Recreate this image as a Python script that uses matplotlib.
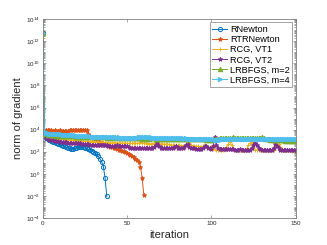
import numpy as np
import matplotlib
matplotlib.use('Agg')
import matplotlib.pyplot as plt
from matplotlib.ticker import LogLocator, NullFormatter, FixedLocator

plt.rcParams['font.family'] = ['Liberation Sans', 'DejaVu Sans']
plt.rcParams['mathtext.fontset'] = 'custom'
plt.rcParams['mathtext.rm'] = 'Liberation Sans'

# log10 of gradient norm
rnewton_log = [12.7, 3.8, 3.2, 3.12, 3.05, 2.98, 2.91, 2.85, 2.79, 2.72,
               2.66, 2.6, 2.54, 2.48, 2.42, 2.36, 2.3, 2.24, 2.25, 2.3,
               2.37, 2.42, 2.45, 2.43, 2.4, 2.35, 2.3, 2.22, 2.15, 2.08,
               2.0, 1.88, 1.75, 1.58, 1.35, 1.1, 0.65, -0.4, -2.05]

rtrnewton_log = [12.7, 3.95, 3.94, 3.93, 3.94, 3.93, 3.92, 3.93, 3.92, 3.92,
                 3.93, 3.92, 3.91, 3.92, 3.91, 3.92, 3.93, 3.94, 3.95, 3.96,
                 3.97, 3.98, 3.99, 4.0, 3.99, 3.98, 3.95, 3.6, 3.45, 3.35,
                 3.25, 3.15, 3.05, 2.95, 2.88, 2.8, 2.72, 2.65, 2.58, 2.52,
                 2.46, 2.4, 2.35, 2.3, 2.25, 2.2, 2.15, 2.1, 2.05, 1.98,
                 1.9, 1.82, 1.72, 1.62, 1.5, 1.38, 1.25, 1.1, 0.65, -0.4,
                 -1.95]

rcg_vt1_log = [12.7, 3.85, 3.35, 3.3, 3.28, 3.25, 3.22, 3.2, 3.18, 3.16,
               3.15, 3.13, 3.12, 3.1, 3.08, 3.07, 3.05, 3.05, 3.03, 3.02,
               3.0, 2.99, 2.98, 2.97, 2.96, 2.95, 2.94, 2.93, 2.92, 2.9,
               2.9, 2.89, 2.88, 2.87, 2.86, 2.85, 2.85, 2.84, 2.83, 2.83,
               2.82, 2.82, 2.81, 2.8, 2.8, 2.8, 2.79, 2.78, 2.78, 2.77,
               2.77, 2.76, 2.76, 2.75, 2.8, 2.78, 2.76, 2.75, 2.9, 2.8,
               2.77, 2.75, 2.74, 2.73, 2.72, 2.72, 2.8, 2.85, 2.78, 2.74,
               2.72, 2.7, 2.7, 2.69, 2.68, 2.66, 2.62, 2.6, 2.6, 2.58,
               2.58, 2.57, 2.56, 2.56, 2.55, 2.7, 2.9, 2.7, 2.6, 2.55,
               2.52, 2.5, 2.48, 2.47, 2.46, 2.5, 2.65, 2.55, 2.45, 2.4,
               2.3, 2.25, 2.22, 2.2, 2.2, 2.19, 2.18, 2.18, 2.2, 2.4,
               2.7, 2.9, 2.6, 2.3, 2.2, 2.18, 2.17, 2.17, 2.16, 2.16,
               2.16, 2.3, 2.6, 2.8, 2.9, 2.5, 2.2, 2.16, 2.15, 2.15,
               2.15, 2.14, 2.14, 2.14, 2.13, 2.13, 2.13, 2.2, 2.4, 2.6,
               2.7, 2.45, 2.2, 2.15, 2.13, 2.12, 2.12, 2.12, 2.11, 2.11,
               2.11]

rcg_vt2_log = [12.7, 3.85, 3.2, 3.15, 3.1, 3.06, 3.02, 3.0, 2.97, 2.95,
               2.92, 2.9, 2.88, 2.86, 2.84, 2.83, 2.82, 2.8, 2.8, 2.78,
               2.77, 2.76, 2.75, 2.72, 2.7, 2.68, 2.67, 2.66, 2.65, 2.64,
               2.63, 2.62, 2.6, 2.6, 2.59, 2.58, 2.58, 2.57, 2.57, 2.56,
               2.56, 2.55, 2.55, 2.55, 2.6, 2.56, 2.54, 2.53, 2.53, 2.52,
               2.52, 2.45, 2.38, 2.36, 2.35, 2.35, 2.34, 2.34, 2.33, 2.33,
               2.35, 2.38, 2.35, 2.33, 2.32, 2.32, 2.45, 2.6, 2.75, 2.5,
               2.38, 2.34, 2.32, 2.31, 2.31, 2.3, 2.3, 2.32, 2.45, 2.5,
               2.38, 2.32, 2.3, 2.3, 2.4, 2.6, 2.7, 2.45, 2.33, 2.3,
               2.3, 2.29, 2.29, 2.28, 2.28, 2.3, 2.5, 2.55, 2.35, 2.3,
               2.28, 2.5, 3.3, 2.6, 2.35, 2.25, 2.23, 2.22, 2.22, 2.21,
               2.21, 2.22, 2.21, 2.21, 2.2, 2.2, 2.2, 2.21, 2.2, 2.2,
               2.2, 2.2, 2.19, 2.19, 2.3, 2.6, 2.8, 2.6, 2.35, 2.22,
               2.2, 2.2, 2.19, 2.19, 2.18, 2.18, 2.18, 2.35, 2.7, 2.55,
               2.35, 2.2, 2.16, 2.15, 2.15, 2.15, 2.14, 2.14, 2.14, 2.14,
               2.14]

lrbfgs2_log = [12.7, 3.85, 3.6, 3.55, 3.52, 3.5, 3.48, 3.47, 3.46, 3.45,
               3.44, 3.43, 3.42, 3.42, 3.41, 3.4, 3.4, 3.39, 3.38, 3.38,
               3.37, 3.36, 3.36, 3.35, 3.35, 3.34, 3.34, 3.33, 3.33, 3.32,
               3.32, 3.31, 3.31, 3.3, 3.3, 3.3, 3.29, 3.29, 3.28, 3.28,
               3.28, 3.27, 3.27, 3.3, 3.27, 3.26, 3.25, 3.25, 3.24, 3.24,
               3.23, 3.23, 3.22, 3.22, 3.21, 3.21, 3.2, 3.2, 3.2, 3.19,
               3.19, 3.19, 3.18, 3.18, 3.2, 3.25, 3.2, 3.18, 3.17, 3.17,
               3.17, 3.16, 3.16, 3.16, 3.16, 3.15, 3.15, 3.15, 3.15, 3.14,
               3.14, 3.14, 3.14, 3.14, 3.13, 3.13, 3.13, 3.13, 3.12, 3.12,
               3.12, 3.12, 3.12, 3.11, 3.11, 3.11, 3.11, 3.1, 3.1, 3.1,
               3.1, 3.1, 3.12, 3.15, 3.18, 3.2, 3.22, 3.23, 3.24, 3.25,
               3.25, 3.26, 3.28, 3.33, 3.27, 3.26, 3.26, 3.25, 3.25, 3.24,
               3.24, 3.23, 3.23, 3.22, 3.22, 3.21, 3.2, 3.2, 3.22, 3.25,
               3.3, 3.2, 3.18, 3.15, 3.12, 3.1, 3.08, 3.06, 3.05, 3.04,
               3.03, 3.03, 3.02, 3.02, 3.01, 3.01, 3.0, 3.0, 3.0, 3.0,
               3.0]

lrbfgs4_log = [12.7, 3.85, 3.7, 3.66, 3.63, 3.62, 3.6, 3.61, 3.58, 3.57,
               3.56, 3.56, 3.54, 3.53, 3.53, 3.5, 3.51, 3.48, 3.47, 3.47,
               3.45, 3.45, 3.43, 3.42, 3.43, 3.4, 3.41, 3.38, 3.39, 3.37,
               3.36, 3.37, 3.35, 3.36, 3.34, 3.33, 3.34, 3.32, 3.33, 3.31,
               3.3, 3.31, 3.3, 3.29, 3.28, 3.29, 3.27, 3.28, 3.26, 3.25,
               3.24, 3.23, 3.22, 3.22, 3.24, 3.26, 3.28, 3.29, 3.3, 3.31,
               3.31, 3.3, 3.31, 3.29, 3.3, 3.28, 3.28, 3.27, 3.26, 3.27,
               3.25, 3.26, 3.24, 3.25, 3.23, 3.24, 3.22, 3.23, 3.22, 3.21,
               3.22, 3.2, 3.21, 3.2, 3.19, 3.2, 3.19, 3.18, 3.19, 3.18,
               3.18, 3.17, 3.18, 3.17, 3.16, 3.17, 3.16, 3.16, 3.15, 3.16,
               3.15, 3.12, 3.1, 3.08, 3.08, 3.1, 3.13, 3.15, 3.16, 3.17,
               3.18, 3.19, 3.18, 3.18, 3.17, 3.18, 3.17, 3.17, 3.16, 3.17,
               3.16, 3.16, 3.17, 3.16, 3.15, 3.16, 3.15, 3.15, 3.16, 3.15,
               3.14, 3.15, 3.14, 3.14, 3.15, 3.14, 3.13, 3.14, 3.13, 3.13,
               3.14, 3.13, 3.13, 3.12, 3.13, 3.12, 3.12, 3.13, 3.12, 3.12,
               3.12]

series = [
    ('RNewton', rnewton_log, '#0072BD', 'o'),
    ('RTRNewton', rtrnewton_log, '#D95319', '*'),
    ('RCG, VT1', rcg_vt1_log, '#EDB120', '+'),
    ('RCG, VT2', rcg_vt2_log, '#7E2F8E', '*'),
    ('LRBFGS, m=2', lrbfgs2_log, '#77AC30', '^'),
    ('LRBFGS, m=4', lrbfgs4_log, '#4DBEEE', '>'),
]

fig = plt.figure(figsize=(3.27, 2.45), dpi=100)
ax = fig.add_axes([0.1306, 0.110, 0.7734, 0.812])

for name, vals, col, mk in series:
    it = np.arange(len(vals))
    g = 10.0 ** np.array(vals)
    if mk == 'o':
        ax.semilogy(it, g, color=col, marker=mk, markersize=3.0, markerfacecolor='none',
                    markeredgewidth=0.7, linewidth=0.7, label=name)
    else:
        ax.semilogy(it, g, color=col, marker=mk, markersize=3.2,
                    markeredgewidth=0.7, linewidth=0.7, label=name)

ax.set_xlim(0, 150)
ax.set_ylim(1e-4, 1e14)
ax.set_xticks([0, 50, 100, 150])
ytk = [10.0 ** k for k in range(-4, 15, 2)]
ax.yaxis.set_major_locator(FixedLocator(ytk))
ax.set_yticklabels(['$10^{%d}$' % k for k in range(-4, 15, 2)])
ax.yaxis.set_minor_locator(LogLocator(base=10, subs=np.arange(1, 10), numticks=100))
ax.yaxis.set_minor_formatter(NullFormatter())

gray = '#262626'
for s in ax.spines.values():
    s.set_color('#808080')
    s.set_linewidth(0.6)
ax.tick_params(which='both', direction='in', top=True, right=True, colors='#808080',
               labelcolor=gray, width=0.5)
ax.tick_params(which='major', length=2.5, labelsize=4.5, pad=2)
ax.tick_params(which='minor', length=1.3)

ax.set_xlabel('iteration', fontsize=8, color=gray, labelpad=3)
ax.set_ylabel('norm of gradient', fontsize=8, color=gray, labelpad=2)

leg = ax.legend(loc='upper right', fontsize=6.6, labelspacing=0.12, handlelength=1.6,
                handletextpad=0.3, borderpad=0.3, borderaxespad=0.35, fancybox=False,
                framealpha=1)
leg.get_frame().set_edgecolor('#808080')
leg.get_frame().set_linewidth(0.5)

fig.savefig('out.png', dpi=100)
